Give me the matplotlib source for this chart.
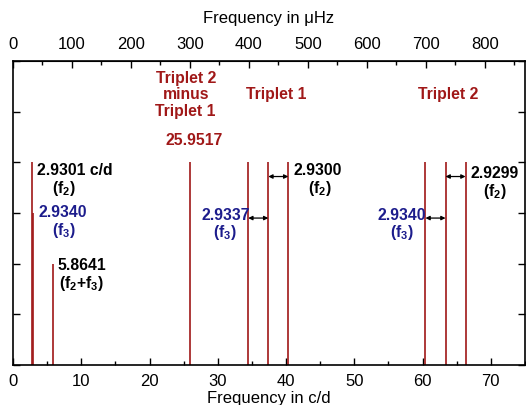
import matplotlib.pyplot as plt
from matplotlib.ticker import MultipleLocator

plt.rcParams['font.family'] = ['Liberation Sans', 'DejaVu Sans']
plt.rcParams['mathtext.fontset'] = 'custom'
plt.rcParams['mathtext.rm'] = 'Liberation Sans'
plt.rcParams['mathtext.bf'] = 'Liberation Sans:bold'
plt.rcParams['mathtext.it'] = 'Liberation Sans:italic'

# peak positions (c/d) and relative heights
freqs = [2.83, 3.00, 5.93, 25.98, 34.46, 37.40, 40.33, 60.42, 63.36, 66.29]
heights = [4, 3, 2, 4, 4, 4, 4, 4, 4, 4]

# spacing arrows: (start, end, level)
arrows = [(34.46, 37.40, 2.9), (37.40, 40.33, 3.72),
          (60.42, 63.36, 2.9), (63.36, 66.29, 3.72)]

red = '#a01818'
blue = '#1c1c8c'
cd_to_uhz = 1e6 / 86400.0

fig = plt.figure(figsize=(5.26, 4.06), dpi=100)
ax = fig.add_axes([13/526, 40/406, 512/526, 304/406])

ax.vlines(freqs, 0, heights, color=red, lw=1.2)

for x0, x1, y in arrows:
    ax.annotate('', xy=(x1, y), xytext=(x0, y),
                arrowprops=dict(arrowstyle='<|-|>', color='k', lw=0.9,
                                mutation_scale=6, shrinkA=0, shrinkB=0))

kw = dict(fontsize=11.3, fontweight='bold', ha='center', va='center')
f2 = r'$\mathbf{(f_2)}$'
f3 = r'$\mathbf{(f_3)}$'
# labels near f2, f3
ax.text(9.1, 3.85, '2.9301 c/d', color='k', **kw)
ax.text(7.4, 3.5, f2, color='k', **kw)
ax.text(7.3, 3.02, '2.9340', color=blue, **kw)
ax.text(7.4, 2.68, f3, color=blue, **kw)
ax.text(10.1, 1.99, '5.8641', color='k', **kw)
ax.text(10.1, 1.62, r'$\mathbf{(f_2{+}f_3)}$', color='k', **kw)

ax.text(25.3, 5.35, 'Triplet 2\nminus\nTriplet 1', color=red,
        linespacing=1.12, **kw)
ax.text(26.6, 4.46, '25.9517', color=red, **kw)
ax.text(38.5, 5.36, 'Triplet 1', color=red, **kw)
ax.text(63.7, 5.36, 'Triplet 2', color=red, **kw)

ax.text(44.7, 3.85, '2.9300', color='k', **kw)
ax.text(44.9, 3.5, f2, color='k', **kw)
ax.text(31.1, 2.98, '2.9337', color=blue, **kw)
ax.text(31.1, 2.64, f3, color=blue, **kw)
ax.text(70.5, 3.79, '2.9299', color='k', **kw)
ax.text(70.6, 3.44, f2, color='k', **kw)
ax.text(56.9, 2.98, '2.9340', color=blue, **kw)
ax.text(56.9, 2.64, f3, color=blue, **kw)

ax.set_xlim(0, 75)
ax.set_ylim(0, 6)
ax.xaxis.set_major_locator(MultipleLocator(10))
ax.xaxis.set_minor_locator(MultipleLocator(5))
ax.yaxis.set_major_locator(MultipleLocator(1))
ax.set_yticklabels([])
ax.tick_params(which='both', direction='in', right=True, labelsize=12,
               width=1, pad=6)
ax.tick_params(which='major', length=5)
ax.tick_params(which='minor', length=3)
ax.set_xlabel('Frequency in c/d', fontsize=12, labelpad=1)
for s in ax.spines.values():
    s.set_linewidth(1.2)

top = ax.secondary_xaxis('top', functions=(lambda x: x * cd_to_uhz,
                                           lambda x: x / cd_to_uhz))
top.xaxis.set_major_locator(MultipleLocator(100))
top.xaxis.set_minor_locator(MultipleLocator(50))
top.tick_params(which='both', direction='in', labelsize=12, width=1, pad=7)
top.tick_params(which='major', length=5)
top.tick_params(which='minor', length=3)
top.set_xlabel('Frequency in μHz', fontsize=12, labelpad=10)

fig.savefig('out.png', dpi=100)
